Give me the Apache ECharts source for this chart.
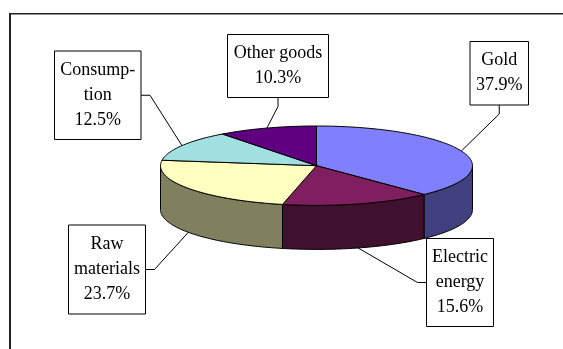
<!DOCTYPE html>
<html>
<head>
<meta charset="utf-8">
<script src="https://cdn.jsdelivr.net/npm/echarts@6/dist/echarts.min.js"></script>
<style>
  html, body { margin: 0; padding: 0; background: #fff; }
  #chart { width: 563px; height: 349px; }
</style>
</head>
<body>
<div id="chart"></div>
<script>
// Export structure (shares of total, %)
const categories = ['Gold', 'Electric energy', 'Raw materials', 'Consumption', 'Other goods'];
const labelLines = [['Gold'], ['Electric', 'energy'], ['Raw', 'materials'], ['Consump-', 'tion'], ['Other goods']];
const shares = [37.9, 15.6, 23.7, 12.5, 10.3];

// Slice colours: top face and the darker rim
const topColors = ['#8080ff', '#7f1f5f', '#ffffc0', '#a0e0e0', '#600080'];
const sideColors = ['#40407f', '#40102f', '#80805f', '#507070', '#300040'];

// Callout boxes (position, size, side the leader leaves from)
const labelBoxes = [
  { x: 470,   y: 41.5,  w: 58.5, h: 63.5, side: 'bottom' },
  { x: 426.5, y: 238.5, w: 67,   h: 88,   side: 'left' },
  { x: 68.5,  y: 225,   w: 77,   h: 89,   side: 'right' },
  { x: 54.5,  y: 51,    w: 86.5, h: 88.5, side: 'right' },
  { x: 227.5, y: 34.5,  w: 101,  h: 63,   side: 'bottom' }
];

// Tilted pie geometry
const PIE = { cx: 316.5, cy: 165.7, rx: 156, ry: 39.7, depth: 44 };

const total = shares.reduce((a, b) => a + b, 0);

function pt(theta, dz) {
  return [PIE.cx + PIE.rx * Math.sin(theta), PIE.cy - PIE.ry * Math.cos(theta) + dz];
}
function arc(a, b, dz) {
  const n = Math.max(2, Math.ceil(Math.abs(b - a) / 0.02));
  const out = [];
  for (let k = 0; k <= n; k++) out.push(pt(a + (b - a) * k / n, dz));
  return out;
}

function renderSlice(params, api) {
  const i = params.dataIndex;
  const value = api.value(0);
  let before = 0;
  for (let k = 0; k < i; k++) before += shares[k];
  const a = before / total * Math.PI * 2;
  const b = (before + value) / total * Math.PI * 2;
  const children = [];
  const lineStyle = { stroke: '#000', lineWidth: 1 };

  // visible rim (front half of the disc)
  const s = Math.max(a, Math.PI / 2);
  const e = Math.min(b, Math.PI * 1.5);
  if (e > s) {
    const pts = arc(s, e, 0).concat(arc(e, s, PIE.depth));
    children.push({
      type: 'polygon', z2: 1,
      shape: { points: pts },
      style: Object.assign({ fill: sideColors[i] }, lineStyle)
    });
  }
  // top face
  children.push({
    type: 'polygon', z2: 2,
    shape: { points: [[PIE.cx, PIE.cy]].concat(arc(a, b, 0)) },
    style: Object.assign({ fill: topColors[i] }, lineStyle)
  });

  // callout
  const m = (a + b) / 2;
  const anchor = pt(m, Math.cos(m) < 0 ? PIE.depth : 0);
  const box = labelBoxes[i];
  let attach, elbow;
  if (box.side === 'bottom') {
    attach = [box.x + box.w / 2, box.y + box.h];
    elbow = [attach[0], attach[1] + 9];
  } else if (box.side === 'right') {
    attach = [box.x + box.w, box.y + box.h / 2];
    elbow = [attach[0] + 9, attach[1]];
  } else {
    attach = [box.x, box.y + box.h / 2];
    elbow = [attach[0] - 9, attach[1]];
  }
  children.push({
    type: 'polyline', z2: 3,
    shape: { points: [attach, elbow, anchor] },
    style: { stroke: '#000', lineWidth: 1, fill: null }
  });
  children.push({
    type: 'rect', z2: 4,
    shape: { x: box.x, y: box.y, width: box.w, height: box.h },
    style: { fill: '#fff', stroke: '#000', lineWidth: 1 }
  });
  children.push({
    type: 'text', z2: 5,
    style: {
      x: box.x + box.w / 2,
      y: box.y + box.h / 2,
      text: labelLines[i].concat(value.toFixed(1) + '%').join('\n'),
      align: 'center',
      verticalAlign: 'middle',
      fontFamily: 'Liberation Serif',
      fontSize: 18,
      lineHeight: 25,
      fill: '#000'
    }
  });
  return { type: 'group', children: children };
}

const chart = echarts.init(document.getElementById('chart'), null, { renderer: 'canvas' });
chart.setOption({
  animation: false,
  backgroundColor: '#fff',
  graphic: [
    { type: 'line', shape: { x1: 10, y1: 13, x2: 10, y2: 360 }, style: { stroke: '#222', lineWidth: 2 } },
    { type: 'line', shape: { x1: 9, y1: 13.7, x2: 570, y2: 13.7 }, style: { stroke: '#222', lineWidth: 1.4 } }
  ],
  series: [{
    type: 'custom',
    coordinateSystem: 'none',
    name: 'Exports',
    data: shares.map((v, i) => ({ name: categories[i], value: [v] })),
    renderItem: renderSlice
  }]
});
</script>
</body>
</html>
